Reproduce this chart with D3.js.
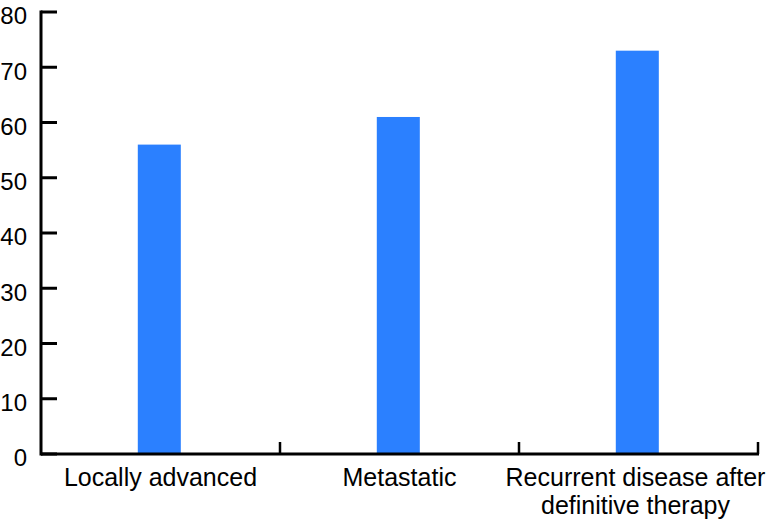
<!DOCTYPE html>
<html>
<head>
<meta charset="utf-8">
<script src="https://cdn.jsdelivr.net/npm/d3@7"></script>
<style>
  body { margin: 0; background: #fff; }
  text { font-family: "Liberation Sans", Arial, Helvetica, sans-serif; }
</style>
</head>
<body>
<div class="container"></div>
<script>
// data
var categories = ['Locally advanced', 'Metastatic', 'Recurrent disease after|definitive therapy']
var values = [56, 61, 73]
var yTicks = [0, 10, 20, 30, 40, 50, 60, 70, 80]

var opts = {
  width: 780,
  height: 530,
  left: 41,
  right: 758,
  top: 12,
  bottom: 454
}

var svg = d3.select('.container').append('svg')
  .attr('width', opts.width)
  .attr('height', opts.height)

var x = d3.scaleBand()
  .domain(categories)
  .range([opts.left, opts.right])
  .padding(0)

var y = d3.scaleLinear()
  .domain([0, 80])
  .range([opts.bottom, opts.top])

// bars
svg.selectAll('rect.bar')
  .data(values)
  .enter().append('rect')
  .attr('class', 'bar')
  .attr('x', function (d, i) { return x(categories[i]) + x.bandwidth() * 0.405 })
  .attr('width', x.bandwidth() * 0.18)
  .attr('y', function (d) { return y(d) })
  .attr('height', function (d) { return y(0) - y(d) })
  .style('fill', '#2b80ff')

// y axis
var yAxis = svg.append('g')
yAxis.append('line')
  .attr('x1', opts.left).attr('x2', opts.left)
  .attr('y1', y(80) - 1.5).attr('y2', y(0) + 1.5)
  .style('stroke', '#000').style('stroke-width', 3)
yAxis.selectAll('line.tick')
  .data(yTicks)
  .enter().append('line')
  .attr('class', 'tick')
  .attr('x1', opts.left).attr('x2', opts.left + 16)
  .attr('y1', function (d) { return y(d) }).attr('y2', function (d) { return y(d) })
  .style('stroke', '#000').style('stroke-width', 3)
yAxis.selectAll('text')
  .data(yTicks)
  .enter().append('text')
  .attr('x', 27)
  .attr('y', function (d) { return y(d) })
  .attr('dy', '0.52em')
  .attr('text-anchor', 'end')
  .style('font-size', '24px')
  .text(function (d) { return d })

// x axis
var xAxis = svg.append('g')
xAxis.append('line')
  .attr('x1', opts.left).attr('x2', opts.right + 1)
  .attr('y1', y(0)).attr('y2', y(0))
  .style('stroke', '#000').style('stroke-width', 3)
xAxis.selectAll('line.tick')
  .data(categories)
  .enter().append('line')
  .attr('class', 'tick')
  .attr('x1', function (d) { return x(d) + x.bandwidth() })
  .attr('x2', function (d) { return x(d) + x.bandwidth() })
  .attr('y1', y(0)).attr('y2', y(0) - 12)
  .style('stroke', '#000').style('stroke-width', 2.5)

// category labels, one text per line so wrapped lines don't collide
var labelLines = []
categories.forEach(function (d, i) {
  d.split('|').forEach(function (line, j) {
    labelLines.push({ cat: d, i: i, j: j, text: line })
  })
})
xAxis.selectAll('text')
  .data(labelLines)
  .enter().append('text')
  .attr('text-anchor', 'middle')
  .attr('x', function (d) { return x(d.cat) + x.bandwidth() / 2 - (d.i === 2 ? 3 : 0) })
  .attr('y', function (d) { return 486 + d.j * 28 })
  .style('font-size', '25px')
  .text(function (d) { return d.text })
</script>
</body>
</html>
